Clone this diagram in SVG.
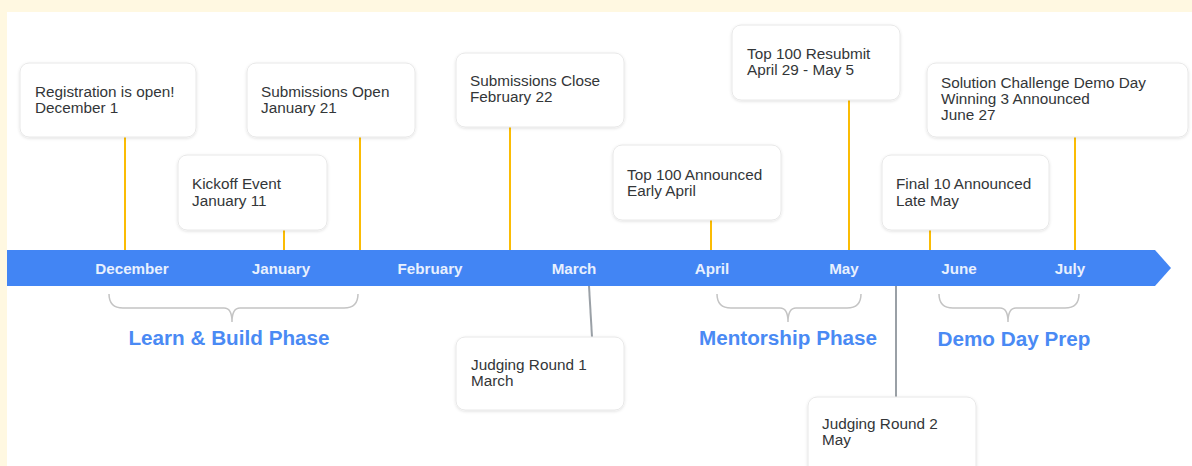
<svg xmlns="http://www.w3.org/2000/svg" width="1192" height="466" viewBox="0 0 1192 466">
<defs>
<filter id="sh" x="-10%" y="-20%" width="120%" height="140%">
<feDropShadow dx="0" dy="1" stdDeviation="1.5" flood-color="#000" flood-opacity="0.12"/>
</filter>
<style>
.box{fill:#fff;stroke:#e8e8e8;stroke-width:1;filter:url(#sh)}
.t{font-family:"Liberation Sans",Arial,sans-serif;font-size:15.3px;fill:#333638}
.m{font-family:"Liberation Sans",Arial,sans-serif;font-size:15.2px;font-weight:bold;fill:#e8f0fe;text-anchor:middle}
.ph{font-family:"Liberation Sans",Arial,sans-serif;font-size:20.7px;font-weight:bold;fill:#4a8af4;text-anchor:middle}
.y{stroke:#fbbc04;stroke-width:2;fill:none}
.g{stroke:#9aa0a6;stroke-width:2;fill:none}
.br{stroke:#c4c4c4;stroke-width:1.5;fill:none}
</style>
</defs>
<rect x="0" y="0" width="1192" height="466" fill="#fff8e1"/>
<rect x="7" y="12" width="1185" height="454" fill="#ffffff"/>

<g id="connectors">
<line class="y" x1="125" y1="137" x2="125" y2="250"/>
<line class="y" x1="284" y1="230" x2="284" y2="250"/>
<line class="y" x1="360" y1="137" x2="360" y2="250"/>
<line class="y" x1="510" y1="127" x2="510" y2="250"/>
<line class="y" x1="711" y1="220" x2="711" y2="250"/>
<line class="y" x1="849" y1="100" x2="849" y2="250"/>
<line class="y" x1="930" y1="230" x2="930" y2="250"/>
<line class="y" x1="1075" y1="137" x2="1075" y2="250"/>
<line class="g" x1="589" y1="286" x2="592" y2="337"/>
<line class="g" x1="896" y1="286" x2="896" y2="397"/>
</g>

<g id="timeline">
<path d="M7 250 H1155 L1171 268 L1155 286 H7 Z" fill="#4285f4"/>
<text class="m" x="132" y="274">December</text>
<text class="m" x="281" y="274">January</text>
<text class="m" x="430" y="274">February</text>
<text class="m" x="574" y="274">March</text>
<text class="m" x="712" y="274">April</text>
<text class="m" x="844" y="274">May</text>
<text class="m" x="959" y="274">June</text>
<text class="m" x="1070" y="274">July</text>
</g>

<g id="phases">
<path class="br" d="M109 294 Q109 308 123 308 H224 Q232 308 232 322 Q232 308 240 308 H344 Q358 308 358 294"/>
<text class="ph" x="229" y="345">Learn &amp; Build Phase</text>
<path class="br" d="M717 294 Q717 308 731 308 H780 Q788 308 788 322 Q788 308 796 308 H847 Q861 308 861 294"/>
<text class="ph" x="788" y="345">Mentorship Phase</text>
<path class="br" d="M939 294 Q939 308 953 308 H1000 Q1008 308 1008 322 Q1008 308 1016 308 H1065 Q1079 308 1079 294"/>
<text class="ph" x="1014" y="346">Demo Day Prep</text>
</g>

<g id="n-registration">
<rect class="box" x="20" y="63" width="176" height="74" rx="9"/>
<text class="t" x="35" y="97">Registration is open!</text>
<text class="t" x="35" y="113">December 1</text>
</g>
<g id="n-kickoff">
<rect class="box" x="178" y="155" width="149" height="75" rx="9"/>
<text class="t" x="192" y="189">Kickoff Event</text>
<text class="t" x="192" y="206">January 11</text>
</g>
<g id="n-subopen">
<rect class="box" x="247" y="63" width="168" height="74" rx="9"/>
<text class="t" x="261" y="97">Submissions Open</text>
<text class="t" x="261" y="113">January 21</text>
</g>
<g id="n-subclose">
<rect class="box" x="456" y="53" width="168" height="74" rx="9"/>
<text class="t" x="470" y="86">Submissions Close</text>
<text class="t" x="470" y="102">February 22</text>
</g>
<g id="n-top100">
<rect class="box" x="613" y="145" width="168" height="75" rx="9"/>
<text class="t" x="627" y="180">Top 100 Announced</text>
<text class="t" x="627" y="196">Early April</text>
</g>
<g id="n-resubmit">
<rect class="box" x="732" y="25" width="168" height="75" rx="9"/>
<text class="t" x="747" y="59">Top 100 Resubmit</text>
<text class="t" x="747" y="75">April 29 - May 5</text>
</g>
<g id="n-final10">
<rect class="box" x="882" y="155" width="167" height="75" rx="9"/>
<text class="t" x="896" y="189">Final 10 Announced</text>
<text class="t" x="896" y="206">Late May</text>
</g>
<g id="n-demoday">
<rect class="box" x="927" y="63" width="261" height="74" rx="9"/>
<text class="t" x="941" y="88">Solution Challenge Demo Day</text>
<text class="t" x="941" y="104">Winning 3 Announced</text>
<text class="t" x="941" y="120">June 27</text>
</g>
<g id="n-judging1">
<rect class="box" x="456" y="337" width="168" height="73" rx="9"/>
<text class="t" x="471" y="370">Judging Round 1</text>
<text class="t" x="471" y="386">March</text>
</g>
<g id="n-judging2">
<rect class="box" x="808" y="397" width="168" height="80" rx="9"/>
<text class="t" x="822" y="429">Judging Round 2</text>
<text class="t" x="822" y="445">May</text>
</g>
</svg>
